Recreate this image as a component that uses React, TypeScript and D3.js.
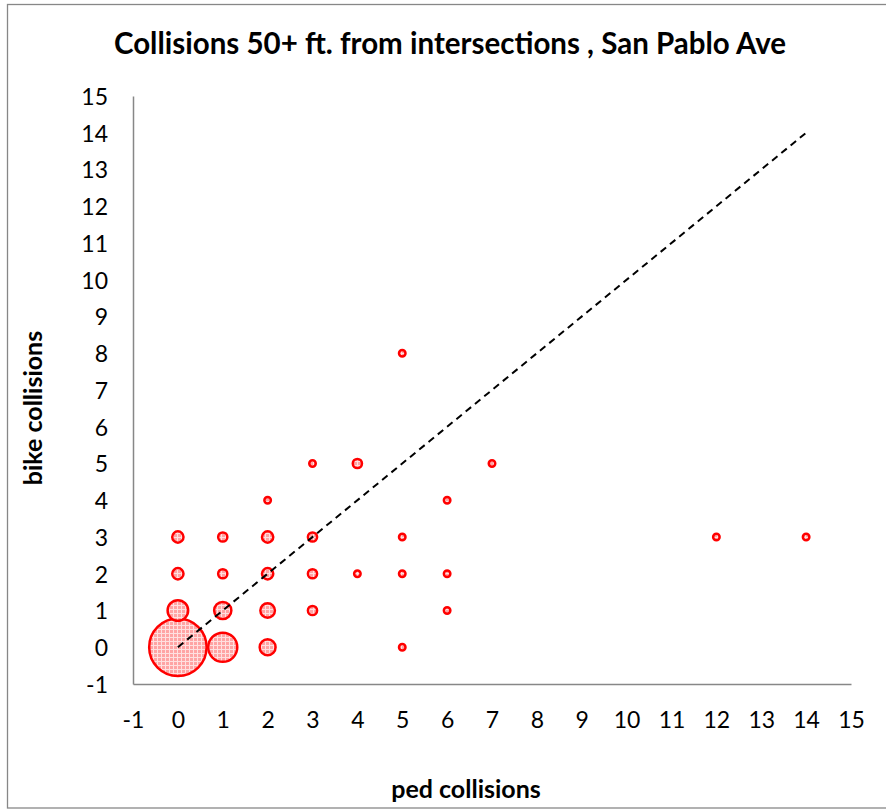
import React, { useRef, useEffect } from 'react';
import * as d3 from 'd3';

// bubble data: one entry per (ped, bike) pair
const pedCollisions = [0, 1, 2, 5, 0, 1, 2, 3, 6, 0, 1, 2, 3, 4, 5, 6, 0, 1, 2, 3, 5, 12, 14, 2, 6, 3, 4, 7, 5];
const bikeCollisions = [0, 0, 0, 0, 1, 1, 1, 1, 1, 2, 2, 2, 2, 2, 2, 2, 3, 3, 3, 3, 3, 3, 3, 4, 4, 5, 5, 5, 8];
const locationCounts = [78, 20, 6, 1, 10, 7, 5, 2, 1, 3, 2, 3, 2, 1, 1, 1, 3, 2, 3, 2, 1, 1, 1, 1, 1, 1, 2, 1, 1];

// reference line ped == bike
const refLineX = [0, 14];
const refLineY = [0, 14];

const axisTicks = d3.range(-1, 16);

const title = 'Collisions 50+ ft. from intersections , San Pablo Ave';
const xAxisLabel = 'ped collisions';
const yAxisLabel = 'bike collisions';

function App() {
  const svgRef = useRef(null);

  useEffect(() => {
    const width = 886;
    const svg = d3.select(svgRef.current);
    svg.selectAll('*').remove();

    const font = 'Lato, "Open Sans", sans-serif';
    const gray = '#878787';

    // chart border
    svg.append('rect')
      .attr('x', 7.5)
      .attr('y', 4.5)
      .attr('width', width + 10)
      .attr('height', 803.5)
      .attr('fill', 'white')
      .attr('stroke', gray)
      .attr('stroke-width', 1.3);

    const xScale = d3.scaleLinear().domain([-1, 15]).range([133, 851]);
    const yScale = d3.scaleLinear().domain([-1, 15]).range([684, 96]);
    const rScale = d3.scaleSqrt().domain([0, 78]).range([0, 28.7]);

    // fill pattern like the excel dotted fill
    const defs = svg.append('defs');
    const pat = defs.append('pattern')
      .attr('id', 'dots')
      .attr('width', 4)
      .attr('height', 4)
      .attr('patternUnits', 'userSpaceOnUse');
    pat.append('rect').attr('width', 4).attr('height', 4).attr('fill', '#ffa4a4');
    pat.append('rect').attr('x', 0).attr('y', 1).attr('width', 4).attr('height', 1).attr('fill', '#ffe0e0');
    pat.append('rect').attr('x', 1).attr('y', 0).attr('width', 1).attr('height', 4).attr('fill', '#ffe0e0');

    // axes
    const xAxis = d3.axisBottom(xScale).tickValues(axisTicks).tickSize(0).tickPadding(0).tickFormat(d => String(d));
    const yAxis = d3.axisLeft(yScale).tickValues(axisTicks).tickSize(0).tickPadding(0).tickFormat(d => String(d));

    const xAxisG = svg.append('g')
      .attr('transform', `translate(0,${yScale(-1)})`)
      .call(xAxis);
    xAxisG.select('.domain').attr('stroke', gray).attr('stroke-width', 1.5);
    xAxisG.selectAll('text')
      .attr('y', 44)
      .attr('dy', null)
      .style('font', `23px ${font}`)
      .attr('fill', 'black');

    const yAxisG = svg.append('g')
      .attr('transform', `translate(${xScale(-1)},0)`)
      .call(yAxis);
    yAxisG.select('.domain').attr('stroke', gray).attr('stroke-width', 1.5);
    yAxisG.selectAll('text')
      .attr('x', -25)
      .attr('dy', '0.36em')
      .style('font', `23px ${font}`)
      .attr('fill', 'black');

    // bubbles, big ones first so small ones stay visible
    const points = pedCollisions.map((p, i) => ({ ped: p, bike: bikeCollisions[i], n: locationCounts[i] }))
      .sort((a, b) => b.n - a.n);

    svg.append('g').selectAll('circle').data(points)
      .enter().append('circle')
        .attr('cx', d => xScale(d.ped))
        .attr('cy', d => yScale(d.bike))
        .attr('r', d => rScale(d.n))
        .attr('fill', 'url(#dots)')
        .attr('stroke', '#ff0000')
        .attr('stroke-width', 2.5);

    const line = d3.line()
      .x(d => xScale(d[0]))
      .y(d => yScale(d[1]));

    svg.append('path')
      .datum(refLineX.map((x, i) => [x, refLineY[i]]))
      .attr('d', line)
      .attr('fill', 'none')
      .attr('stroke', 'black')
      .attr('stroke-width', 2)
      .attr('stroke-dasharray', '7 5');

    // titles
    svg.append('text')
      .attr('x', 450)
      .attr('y', 54)
      .attr('text-anchor', 'middle')
      .style('font', `bold 29.5px ${font}`)
      .text(title);

    svg.append('text')
      .attr('x', 466)
      .attr('y', 798)
      .attr('text-anchor', 'middle')
      .style('font', `bold 25px ${font}`)
      .text(xAxisLabel);

    svg.append('text')
      .attr('transform', `translate(42,408) rotate(-90)`)
      .attr('text-anchor', 'middle')
      .style('font', `bold 25px ${font}`)
      .text(yAxisLabel);
  }, []);

  return (
    <svg
      ref={svgRef}
      width={886}
      height={811}
      style={{ position: 'absolute', left: 0, top: 0, background: 'white' }}
    />
  );
}

export default App;
